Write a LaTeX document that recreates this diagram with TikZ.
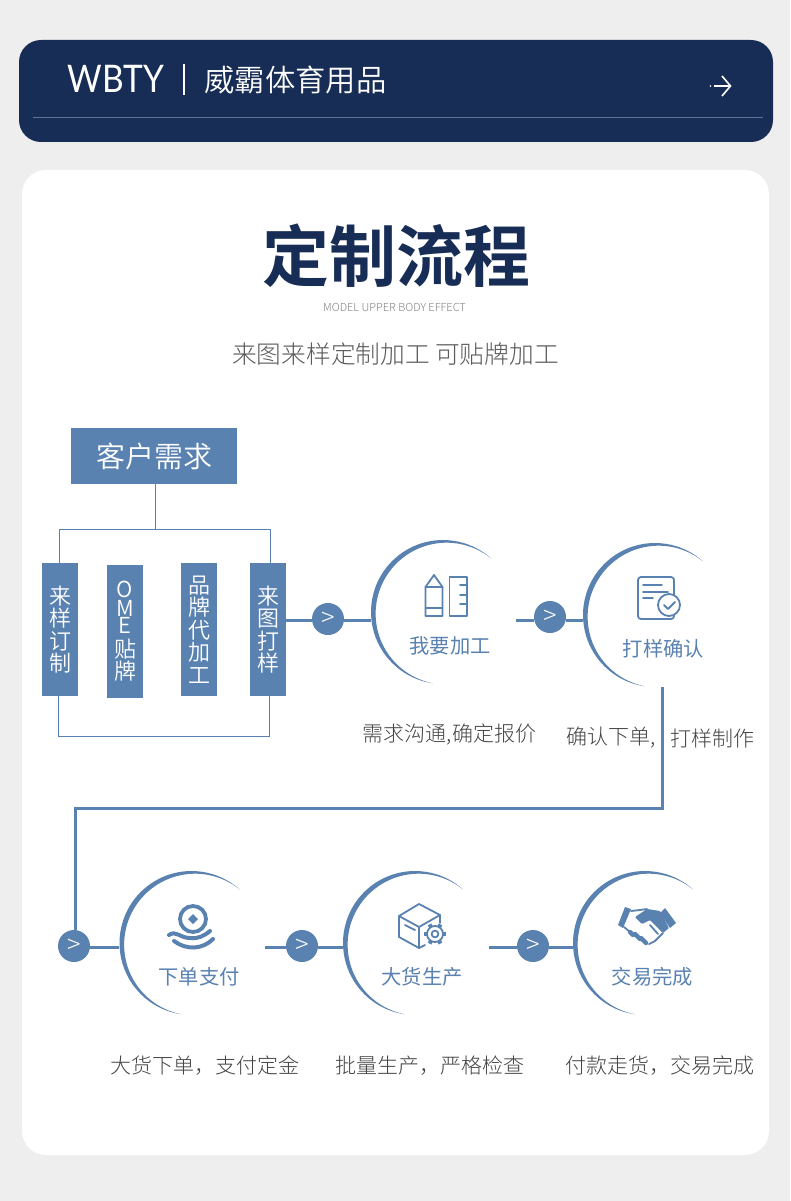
\documentclass[tikz,border=0pt]{standalone}
\usepackage{fontspec}
\setmainfont{Noto Sans CJK SC}
\newfontfamily\cjklight{Noto Sans CJK SC Light}
\newfontfamily\cjkdemi{Noto Sans CJK SC DemiLight}
\newfontfamily\cjkbold{Noto Sans CJK SC Bold}
\newfontfamily\latinbrand{Lato}
\usepackage{xcolor}
\usetikzlibrary{arrows.meta,positioning,calc}

\definecolor{pagegrey}{HTML}{EEEEEE}
\definecolor{navy}{HTML}{182D55}
\definecolor{flowblue}{HTML}{5A82B1}
\definecolor{rulegrey}{HTML}{5F7393}
\definecolor{captiongrey}{HTML}{444444}

\newcommand{\tightstack}{\lineskiplimit=-100pt\relax}

\begin{document}
\begin{tikzpicture}[
    x=1pt,
    y=1pt,
    banner/.style={
        fill=navy,
        rounded corners=22pt,
        inner sep=0pt,
        minimum width=754pt,
        minimum height=102pt
    },
    card/.style={
        fill=white,
        rounded corners=24pt,
        inner sep=0pt,
        minimum width=747pt,
        minimum height=985pt
    },
    needbox/.style={
        fill=flowblue,
        text=white,
        inner sep=0pt,
        minimum width=166pt,
        minimum height=56pt,
        font=\cjkdemi\fontsize{29}{29}\selectfont
    },
    tallbox/.style={
        fill=flowblue,
        text=white,
        inner sep=0pt,
        align=center,
        minimum width=36pt,
        minimum height=133pt,
        font=\cjkdemi\fontsize{22}{22.5}\selectfont
    },
    stepdot/.style={
        circle,
        fill=flowblue,
        text=white,
        inner sep=0pt,
        minimum size=32pt,
        font=\cjklight\fontsize{25}{25}\selectfont
    },
    ringspot/.style={
        circle,
        inner sep=0pt,
        minimum size=144pt
    },
    steptitle/.style={
        text=flowblue,
        inner sep=0pt,
        font=\fontsize{20.3}{20.3}\selectfont
    },
    caption/.style={
        text=captiongrey,
        inner sep=0pt,
        font=\cjklight\fontsize{21}{21}\selectfont
    },
    thinline/.style={
        draw=flowblue,
        line width=1pt
    },
    flowline/.style={
        draw=flowblue,
        line width=3pt
    },
    iconline/.style={
        draw=flowblue,
        line width=1.8pt,
        line join=round,
        line cap=round
    }
]

\useasboundingbox[fill=pagegrey] (0,0) rectangle (790,-1201);

% ------------------------------------------------
% Banner and card
% ------------------------------------------------

\node[banner] (banner) at (396,-91) {};
\node[card] (card) at (395.5,-662.5) {};

\node[text=white, inner sep=0pt, xscale=0.88, font=\latinbrand\fontsize{38}{38}\selectfont] (brand)
    at (116,-79) {WBTY};
\node[text=white, inner sep=0pt, font=\cjkdemi\fontsize{30.3}{30.3}\selectfont] (brandcn)
    at (295.5,-80) {威霸体育用品};

\coordinate (bartop) at (184,-64);
\coordinate (barbot) at (184,-95);
\draw[white, line width=1.2pt] (bartop) -- (barbot);

\coordinate (ruleleft) at (33,-117.5);
\coordinate (ruleright) at (763,-117.5);
\draw[rulegrey, line width=1pt] (ruleleft) -- (ruleright);

% small arrow on the banner
\fill[white] (710.5,-86) circle (0.9);
\draw[white, line width=1.6pt] (714,-86) -- (730,-86);
\draw[white, line width=1.6pt] (722,-76) -- (730.5,-86) -- (722,-96);

% ------------------------------------------------
% Heading
% ------------------------------------------------

\node[text=navy, inner sep=0pt, font=\cjkbold\fontsize{67}{67}\selectfont] (heading)
    at (396,-256) {定制流程};
\node[text=black!50, inner sep=0pt, font=\cjklight\fontsize{11}{11}\selectfont] (subheading)
    at (394.5,-307.5) {MODEL UPPER BODY EFFECT};
\node[text=black!65, inner sep=0pt, font=\cjklight\fontsize{24.7}{24.7}\selectfont] (slogan)
    at (395.5,-354) {来图来样定制加工 可贴牌加工};

% ------------------------------------------------
% Customer needs
% ------------------------------------------------

\node[needbox] (needs) at (154,-456) {客户需求};

\node[tallbox] (tallA) at (60,-629.5) {来\\样\\订\\制};
\node[tallbox, font=\cjkdemi\fontsize{22}{17}\selectfont\tightstack] (tallB) at (125,-631.5)
    {O\\[2pt]M\\E\\[7pt]贴\\[5pt]牌};
\node[tallbox] (tallC) at (199,-629.5) {品\\牌\\代\\加\\工};
\node[tallbox] (tallD) at (268,-629.5) {来\\图\\打\\样};

\coordinate (treejoin) at (155.5,-529.5);
\coordinate (treeleft) at (59.5,-529.5);
\coordinate (treeright) at (270,-529.5);
\coordinate (underleft) at (58.5,-736.5);
\coordinate (underright) at (269.5,-736.5);

\draw[thinline] (needs.south -| treejoin) -- (treejoin);
\draw[thinline] (tallA.north -| treeleft) -- (treeleft) -- (treeright) -- (tallD.north -| treeright);
\draw[thinline] (tallA.south -| underleft) -- (underleft) -- (underright) -- (tallD.south -| underright);

% ------------------------------------------------
% Rings
% ------------------------------------------------

\node[ringspot] (ringA) at (443,-612) {};
\node[ringspot] (ringB) at (655,-615) {};
\node[ringspot] (ringC) at (191.5,-943) {};
\node[ringspot] (ringD) at (415,-943) {};
\node[ringspot] (ringE) at (645,-943) {};

\foreach \ring in {ringA,ringB,ringC,ringD,ringE}
{
    \fill[flowblue, shift={(\ring.center)}]
        plot[domain=48:262, samples=60] ({72*cos(\x)},{72*sin(\x)})
        -- plot[domain=262:48, samples=60]
            ({(72-1.13-3.87*cos(\x-155))*cos(\x)},{(72-1.13-3.87*cos(\x-155))*sin(\x)})
        -- cycle;
}

\node[steptitle] (titleA) at (450,-646) {我要加工};
\node[steptitle] (titleB) at (663.5,-649) {打样确认};
\node[steptitle] (titleC) at (199,-977) {下单支付};
\node[steptitle] (titleD) at (422,-977) {大货生产};
\node[steptitle] (titleE) at (652.5,-977) {交易完成};

\node[caption] (noteA) at (449.5,-735) {需求沟通,确定报价};
\node[caption] (noteB1) at (611,-738) {确认下单,};
\node[caption] (noteB2) at (712.5,-738) {打样制作};
\node[caption] (noteC) at (205,-1066) {大货下单，支付定金};
\node[caption] (noteD) at (429.5,-1066) {批量生产，严格检查};
\node[caption] (noteE) at (659.5,-1066) {付款走货，交易完成};

% ------------------------------------------------
% Connections
% ------------------------------------------------

\node[stepdot] (dotA) at (328,-619) {>};
\node[stepdot] (dotB) at (550,-617) {>};
\node[stepdot] (dotC) at (74,-946) {>};
\node[stepdot] (dotD) at (302,-946) {>};
\node[stepdot] (dotE) at (533,-946) {>};

\coordinate (levelA) at (516,-620);
\coordinate (levelD) at (265,-947);
\coordinate (levelE) at (489,-947);
\coordinate (dropB) at (662,-687);
\coordinate (elbowB) at (662,-808);
\coordinate (elbowC) at (75,-808);

\draw[flowline] (tallD.east |- levelA) -- (dotA.west |- levelA);
\draw[flowline] (dotA.east |- levelA) -- (ringA.west |- levelA);
\draw[flowline] (levelA) -- (dotB.west |- levelA);
\draw[flowline] (dotB.east |- levelA) -- (ringB.west |- levelA);
\draw[flowline] (dropB) -- (elbowB) -- (elbowC) -- (elbowC |- dotC.north);
\draw[flowline] (dotC.east |- levelD) -- (ringC.west |- levelD);
\draw[flowline] (levelD) -- (dotD.west |- levelD);
\draw[flowline] (dotD.east |- levelD) -- (ringD.west |- levelD);
\draw[flowline] (levelE) -- (dotE.west |- levelE);
\draw[flowline] (dotE.east |- levelE) -- (ringE.west |- levelE);

% ------------------------------------------------
% Icons
% ------------------------------------------------

% pencil and ruler
\draw[iconline] (425.5,-616) -- (425.5,-587) -- (434,-575) -- (442.5,-587) -- (442.5,-616) -- cycle;
\draw[iconline] (425.5,-587) -- (442.5,-587);
\draw[iconline] (425.5,-608) -- (442.5,-608);
\draw[iconline] (449.5,-577) rectangle (467,-616);
\foreach \tick in {585,595,604}
    \draw[iconline] (460,-\tick) -- (467,-\tick);

% sheet with a tick
\draw[iconline, rounded corners=3pt] (638,-577) rectangle (674,-619);
\draw[iconline] (643,-585) -- (662,-585);
\draw[iconline] (643,-592) -- (668,-592);
\draw[iconline] (643,-598) -- (653,-598);
\filldraw[iconline, fill=white] (669,-605) circle (11);
\draw[iconline] (664,-605) -- (668,-609) -- (675,-602);

% coin on open hands
\draw[flowblue, line width=3.8pt] (193,-919) circle (13);
\fill[flowblue] (188,-919) -- (193,-914) -- (198,-919) -- (193,-924) -- cycle;
\draw[flowblue, line width=4pt, line cap=round]
    (169,-935) .. controls (176,-930) and (180,-938) .. (190,-938)
    .. controls (198,-939) and (204,-936) .. (210,-931);
\draw[flowblue, line width=4pt, line cap=round]
    (174,-941) .. controls (186,-950) and (202,-950) .. (213,-939);

% carton and gear
\draw[iconline] (425,-945) -- (419,-948) -- (399,-937) -- (399,-916) -- (419,-904) -- (440,-915) -- (440,-923);
\draw[iconline] (399,-916) -- (419,-927) -- (440,-915);
\draw[iconline] (419,-927) -- (419,-948);
\draw[iconline] (405,-925) -- (415,-930);
\foreach \tooth in {0,60,...,300}
    \draw[flowblue, line width=4pt] ($(435,-934)+(\tooth:7)$) -- ($(435,-934)+(\tooth:11)$);
\filldraw[iconline, fill=white] (435,-934) circle (8);
\draw[iconline] (435,-934) circle (3.4);

% handshake
\fill[flowblue] (625,-907) -- (631,-909) -- (623,-928) -- (618,-925) -- cycle;
\fill[flowblue] (665,-908) -- (676,-923) -- (670,-928) -- (660,-913) -- cycle;
\fill[flowblue, rounded corners=1pt] (635,-917) -- (647,-909) -- (660,-911) -- (669,-928) -- (663,-933)
    -- (650,-920) -- (642,-924) -- cycle;
\draw[iconline] (631,-911) -- (640,-910) -- (647,-909);
\draw[iconline] (624,-927) -- (630,-932);
\draw[iconline] (663,-933) -- (655,-941) -- (649,-944);
\draw[iconline] (650,-925) -- (658,-934);
\draw[flowblue, line width=4.4pt, line cap=round] (630,-932) -- (633,-935);
\draw[flowblue, line width=4.4pt, line cap=round] (635,-934) -- (640,-939);
\draw[flowblue, line width=4.4pt, line cap=round] (641,-938) -- (646,-943);

\end{tikzpicture}
\end{document}
